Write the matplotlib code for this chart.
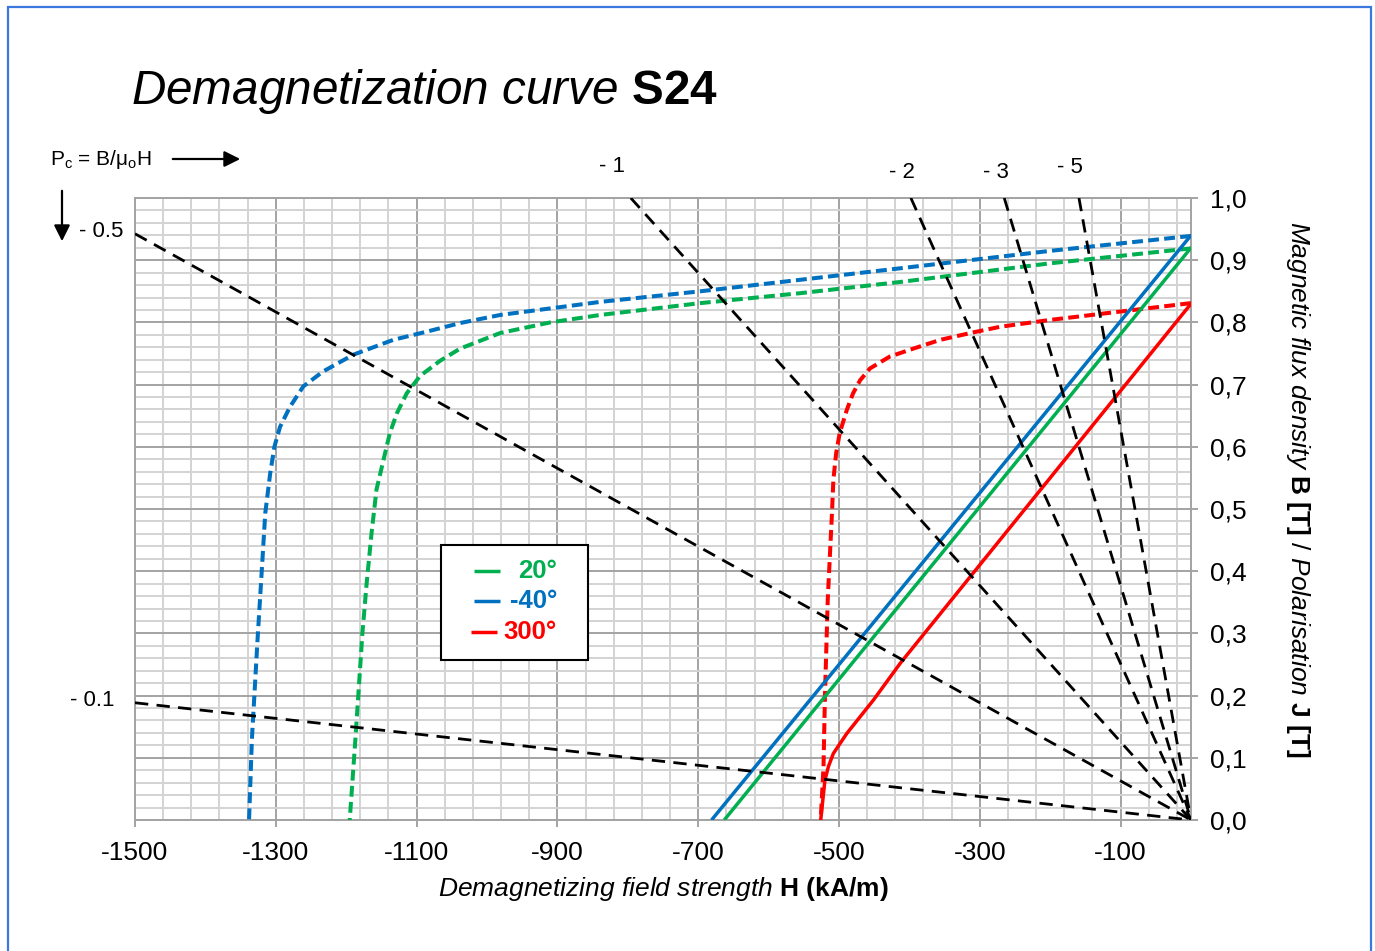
import numpy as np
import matplotlib
matplotlib.use('Agg')
import matplotlib.pyplot as plt
from matplotlib.patches import Rectangle, FancyArrowPatch
from matplotlib.lines import Line2D
from matplotlib.ticker import FixedLocator, MultipleLocator, FuncFormatter

plt.rcParams['font.family'] = ['Liberation Sans', 'DejaVu Sans']
plt.rcParams['mathtext.fontset'] = 'custom'
plt.rcParams['mathtext.rm'] = 'Liberation Sans'
plt.rcParams['mathtext.it'] = 'Liberation Sans:italic'
plt.rcParams['mathtext.bf'] = 'Liberation Sans:bold'

# ---------------- data ----------------
# Polarisation J (dashed) curves, H in kA/m, J in T
H_J_m40 = [0, -200, -413, -697, -839, -981, -1038, -1086, -1133, -1190, -1233, -1261,
           -1280, -1294, -1302, -1308, -1315, -1319, -1326, -1334, -1338]
J_m40 = [0.939, 0.915, 0.887, 0.850, 0.833, 0.812, 0.799, 0.785, 0.772, 0.748, 0.721, 0.697,
         0.664, 0.632, 0.600, 0.557, 0.493, 0.418, 0.289, 0.129, 0.0]

H_J_20 = [0, -200, -413, -555, -697, -839, -910, -981, -1038, -1067, -1095, -1114, -1128,
          -1138, -1147, -1157, -1164, -1171, -1177, -1182, -1187, -1195]
J_20 = [0.919, 0.895, 0.865, 0.847, 0.831, 0.812, 0.800, 0.783, 0.758, 0.738, 0.714, 0.686,
        0.654, 0.622, 0.579, 0.531, 0.461, 0.380, 0.300, 0.214, 0.129, 0.0]

H_J_300 = [0, -200, -271, -309, -356, -394, -428, -456, -470, -480, -489, -499, -504,
           -508, -510, -516, -520, -522, -526]
J_300 = [0.831, 0.804, 0.793, 0.784, 0.772, 0.758, 0.745, 0.726, 0.707, 0.686, 0.659,
         0.622, 0.590, 0.547, 0.493, 0.354, 0.198, 0.086, 0.0]

# Flux density B (solid) curves
H_B_m40 = [0, -681]
B_m40 = [0.94, 0.0]
H_B_20 = [0, -663]
B_20 = [0.92, 0.0]
H_B_300 = [0, -413, -451, -489, -508, -515, -520, -523, -526]
B_300 = [0.83, 0.252, 0.193, 0.139, 0.107, 0.086, 0.064, 0.032, 0.0]

# Permeance coefficients for load lines
Pc_values = [-0.1, -0.5, -1, -2, -3, -5]
Pc_labels = ['- 0.1', '- 0.5', '- 1', '- 2', '- 3', '- 5']

legend_labels = ['20°', '-40°', '300°']

x_ticks = list(range(-1500, 0, 200))
y_ticks = [0.0, 0.1, 0.2, 0.3, 0.4, 0.5, 0.6, 0.7, 0.8, 0.9, 1.0]

GREEN = '#00B050'
BLUE = '#0070C0'
RED = '#FF0000'

# ---------------- figure ----------------
W, H = 1375, 951
fig = plt.figure(figsize=(W / 100, H / 100), dpi=100)
ax = fig.add_axes([135 / W, 1 - 820 / H, 1056 / W, 622 / H])
ax.set_xlim(-1500, 0)
ax.set_ylim(0, 1.0)

ax.xaxis.set_major_locator(FixedLocator(x_ticks))
ax.xaxis.set_minor_locator(FixedLocator(np.arange(-1500, 1, 40)))
ax.yaxis.set_major_locator(FixedLocator(y_ticks))
ax.yaxis.set_minor_locator(MultipleLocator(0.02))
ax.xaxis.set_major_formatter(FuncFormatter(lambda v, p: f"{int(round(v))}".replace('\u2212', '-')))
ax.yaxis.set_major_formatter(FuncFormatter(lambda v, p: f"{v:.1f}".replace('.', ',')))
ax.yaxis.tick_right()

ax.set_axisbelow(True)
ax.grid(which='minor', color='#d3d3d3', lw=1.4)
ax.grid(which='major', color='#a3a3a3', lw=1.4)
for s in ax.spines.values():
    s.set_color('#a3a3a3')
    s.set_linewidth(1.4)

ax.tick_params(which='major', direction='out', length=5, width=1.4, color='#a3a3a3',
               labelsize=19, pad=9)
ax.tick_params(axis='x', which='major', pad=10)
ax.tick_params(which='minor', length=0)

# load lines
mu0 = 4 * np.pi * 1e-7
for pc in Pc_values:
    slope = pc * mu0 * 1e3
    h_end = max(-1500.0, 1.0 / slope)
    ax.plot([h_end, 0], [slope * h_end, 0], color='black', lw=2.0, dashes=(4.8, 3.0),
            zorder=4, clip_on=True)

dash_kw = dict(lw=2.9, dashes=(2.7, 1.3), dash_capstyle='butt', zorder=3)
ax.plot(H_J_m40, J_m40, color=BLUE, **dash_kw)
ax.plot(H_J_20, J_20, color=GREEN, **dash_kw)
ax.plot(H_J_300, J_300, color=RED, **dash_kw)

solid_kw = dict(lw=2.5, zorder=3, solid_capstyle='butt')
ax.plot(H_B_m40, B_m40, color=BLUE, **solid_kw)
ax.plot(H_B_20, B_20, color=GREEN, **solid_kw)
ax.plot(H_B_300, B_300, color=RED, **solid_kw)


def axc(px, py):
    return ((px - 135) / 1056, (820 - py) / 622)


# Pc labels
pc_label_px = {'- 0.1': (92, 700), '- 0.5': (101, 232), '- 1': (612, 167),
               '- 2': (902, 173), '- 3': (996, 173), '- 5': (1070, 168)}
for lab in Pc_labels:
    xx, yy = axc(*pc_label_px[lab])
    ax.text(xx, yy, lab, transform=ax.transAxes, ha='center', va='center',
            fontsize=16, clip_on=False)

# legend (manual, Excel-style)
bx0, by0 = axc(441, 660)
bx1, by1 = axc(588, 545)
ax.add_patch(Rectangle((bx0, by0), bx1 - bx0, by1 - by0, transform=ax.transAxes,
                       facecolor='white', edgecolor='black', lw=1.5, zorder=6))
for lab, col, py, lx in zip(legend_labels, [GREEN, BLUE, RED], [571, 601, 632],
                            [474, 474, 471]):
    lx0, ly = axc(lx, py)
    lx1, _ = axc(lx + 26, py)
    ax.add_line(Line2D([lx0, lx1], [ly, ly], color=col, lw=2.5, transform=ax.transAxes,
                       zorder=7, solid_capstyle='butt'))
    tx, _ = axc(557, py)
    ax.text(tx, ly, lab, transform=ax.transAxes, ha='right', va='center',
            color=col, fontsize=18.5, fontweight='bold', zorder=7)

# title
fig.text(131 / W, 1 - 104 / H,
         r"$\mathit{Demagnetization\ curve}$ $\mathbf{S24}$",
         fontsize=34.3, va='baseline', ha='left')

# axis labels
fig.text(663 / W, 1 - 889 / H,
         r"$\mathit{Demagnetizing\ field\ strength}$ $\mathbf{H\ (kA/m)}$",
         fontsize=19, ha='center', va='center')
fig.text(1298 / W, 1 - 489 / H,
         r"$\mathit{Magnetic\ flux\ density}$ $\mathbf{B\ [T]}$ $\mathit{/\ Polarisation}$ $\mathbf{J\ [T]}$",
         fontsize=19, ha='center', va='center', rotation=-90)

# Pc formula and arrows
fig.text(50 / W, 1 - 165 / H, r"P$_\mathregular{c}$ = B/μ$_\mathregular{o}$H",
         fontsize=15, va='baseline', ha='left')
fig.add_artist(FancyArrowPatch((170 / W, 1 - 159 / H), (243 / W, 1 - 159 / H),
                               transform=fig.transFigure, arrowstyle='-|>',
                               mutation_scale=24, lw=1.6, color='black'))
fig.add_artist(FancyArrowPatch((62 / W, 1 - 188 / H), (62 / W, 1 - 244 / H),
                               transform=fig.transFigure, arrowstyle='-|>',
                               mutation_scale=24, lw=1.6, color='black'))

# blue frame
fig.add_artist(Rectangle((8 / W, -0.05), (1371 - 8) / W, 1.05 - 7 / H,
                         transform=fig.transFigure, fill=False,
                         edgecolor='#3A78E0', lw=1.6))

fig.savefig('out.png', dpi=100)
